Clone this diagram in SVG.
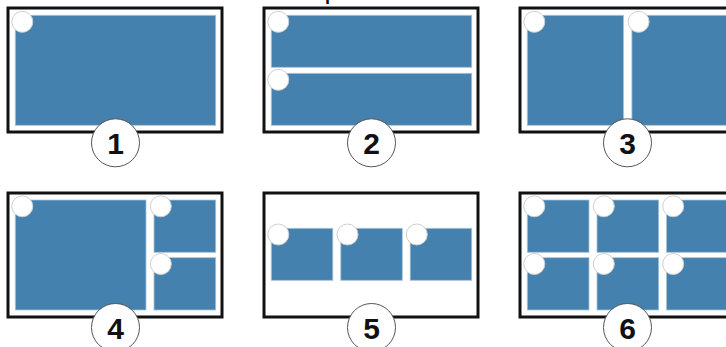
<svg xmlns="http://www.w3.org/2000/svg" width="726" height="347" viewBox="0 0 726 347">
<style>
.frame{fill:#fff;stroke:#111;stroke-width:3}
.tile{fill:#4581ae;stroke:#a9c3d8;stroke-width:0.8}
.pin{fill:#fff;stroke:#d0d0d0;stroke-width:1}
.badge{fill:#fff;stroke:#555;stroke-width:1}
.num{font-family:"Liberation Sans",Arial,sans-serif;font-weight:bold;font-size:30px;fill:#111;text-anchor:middle}
.frag{font-family:"Liberation Sans",Arial,sans-serif;font-weight:bold;font-size:18px;fill:#111}
</style>
<rect width="726" height="347" fill="#fff"/>
<text class="frag" x="325" y="0">p</text>
<g id="layout1">
<rect class="frame" x="8" y="8" width="214" height="124"/>
<rect class="tile" x="15.3" y="15.3" width="200.4" height="110"/>
<circle class="pin" cx="22.3" cy="21.8" r="10.5"/>
<circle class="badge" cx="115.5" cy="142.8" r="24"/>
<text class="num" x="115.5" y="154">1</text>
</g>
<g id="layout2">
<rect class="frame" x="264" y="8" width="214" height="124"/>
<rect class="tile" x="271.3" y="15.3" width="200.4" height="52"/>
<rect class="tile" x="271.3" y="73.3" width="200.4" height="52"/>
<circle class="pin" cx="278.3" cy="21.8" r="10.5"/>
<circle class="pin" cx="278.3" cy="79.8" r="10.5"/>
<circle class="badge" cx="371.5" cy="142.8" r="24"/>
<text class="num" x="371.5" y="154">2</text>
</g>
<g id="layout3">
<rect class="frame" x="520" y="8" width="214" height="124"/>
<rect class="tile" x="527.3" y="15.3" width="96.3" height="110"/>
<rect class="tile" x="631.9" y="15.3" width="96.3" height="110"/>
<circle class="pin" cx="534.3" cy="21.8" r="10.5"/>
<circle class="pin" cx="638.6" cy="21.8" r="10.5"/>
<circle class="badge" cx="627.5" cy="142.8" r="24"/>
<text class="num" x="627.5" y="154">3</text>
</g>
<g id="layout4">
<rect class="frame" x="8" y="193" width="214" height="124"/>
<rect class="tile" x="15.3" y="200" width="130.7" height="110"/>
<rect class="tile" x="154" y="200" width="61.7" height="52.3"/>
<rect class="tile" x="154" y="257.7" width="61.7" height="52.3"/>
<circle class="pin" cx="22.3" cy="206.3" r="10.5"/>
<circle class="pin" cx="160.8" cy="206.3" r="10.5"/>
<circle class="pin" cx="160.8" cy="264" r="10.5"/>
<circle class="badge" cx="115.5" cy="327.5" r="24"/>
<text class="num" x="115.5" y="338.8">4</text>
</g>
<g id="layout5">
<rect class="frame" x="264" y="193" width="214" height="124"/>
<rect class="tile" x="271.3" y="228.3" width="61.5" height="52"/>
<rect class="tile" x="340.8" y="228.3" width="61.5" height="52"/>
<rect class="tile" x="410.2" y="228.3" width="61.5" height="52"/>
<circle class="pin" cx="278.3" cy="234.5" r="10.5"/>
<circle class="pin" cx="347.5" cy="234.5" r="10.5"/>
<circle class="pin" cx="416.8" cy="234.5" r="10.5"/>
<circle class="badge" cx="371.5" cy="327.5" r="24"/>
<text class="num" x="371.5" y="338.8">5</text>
</g>
<g id="layout6">
<rect class="frame" x="520" y="193" width="214" height="124"/>
<rect class="tile" x="527.3" y="200" width="61.7" height="52.3"/>
<rect class="tile" x="597" y="200" width="61.7" height="52.3"/>
<rect class="tile" x="666.5" y="200" width="61.7" height="52.3"/>
<rect class="tile" x="527.3" y="257.7" width="61.7" height="52.3"/>
<rect class="tile" x="597" y="257.7" width="61.7" height="52.3"/>
<rect class="tile" x="666.5" y="257.7" width="61.7" height="52.3"/>
<circle class="pin" cx="534.3" cy="206.3" r="10.5"/>
<circle class="pin" cx="603.8" cy="206.3" r="10.5"/>
<circle class="pin" cx="673.2" cy="206.3" r="10.5"/>
<circle class="pin" cx="534.3" cy="264" r="10.5"/>
<circle class="pin" cx="603.8" cy="264" r="10.5"/>
<circle class="pin" cx="673.2" cy="264" r="10.5"/>
<circle class="badge" cx="627.5" cy="327.5" r="24"/>
<text class="num" x="627.5" y="338.8">6</text>
</g>
<g id="connectors"/>
</svg>
